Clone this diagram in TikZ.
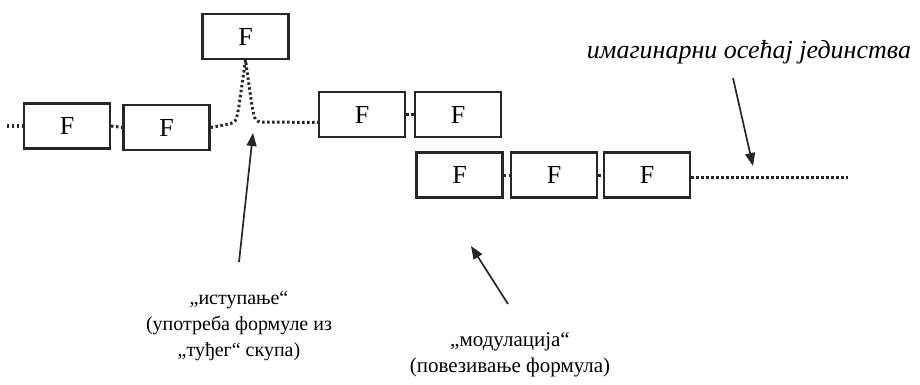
\documentclass[tikz,border=0pt]{standalone}
\usepackage{fontspec}
\setmainfont[Script=Cyrillic,Language=Serbian]{Liberation Serif}
\usetikzlibrary{arrows.meta}
\begin{document}
\begin{tikzpicture}[x=1pt,y=-1pt,
  fbox/.style={draw=black!85,line width=2.2pt,minimum width=86pt,minimum height=45pt,inner sep=0pt,font=\fontsize{26}{28}\selectfont},
  dots/.style={line width=3pt,dash pattern=on 2.4pt off 2.6pt,black!85},
  arr/.style={line width=1.7pt,black!85,-{Triangle[length=13pt,width=10pt]}},
  lbl/.style={align=center,inner sep=0pt,font=\fontsize{20}{26}\selectfont}]
\useasboundingbox (0,0) rectangle (920,385);
\node[fbox] (b1) at (67,126) {F};
\node[fbox] (b2) at (166.5,127.5) {F};
\node[fbox] (top) at (245.5,36.5) {F};
\node[fbox] (b3) at (362,114.5) {F};
\node[fbox] (b4) at (458,114.5) {F};
\node[fbox] (b5) at (459.5,175) {F};
\node[fbox] (b6) at (554,175) {F};
\node[fbox] (b7) at (647,175) {F};
\coordinate (l0) at (7,126);
\coordinate (r0) at (848,177);
\draw[dots] (l0) -- (b1.west);
\draw[dots] (b1.east) -- (b2.west);
\draw[dots] (b3.east) -- (b4.west);
\draw[dots] (b5.east) -- (b6.west);
\draw[dots] (b6.east) -- (b7.west);
\draw[dots] ([yshift=-2pt]b7.east) -- (r0);
\draw[dots] (b2.east) -- (229,124) .. controls (236,122) .. (239,106) -- (top.south) -- (252,106) .. controls (255,121) .. (262,122) -- ([yshift=-8pt]b3.west);
\node[lbl] (t1) at (239,326) {„иступање“\\(употреба формуле из\\„туђег“ скупа)};
\node[lbl,font=\fontsize{21}{26}\selectfont] (t2) at (510,355) {„модулација“\\(повезивање формула)};
\node[lbl,font=\fontsize{26}{28}\selectfont\itshape,anchor=center] (t3) at (749,52) {имагинарни осећај јединства};
\coordinate (a1s) at (239,262);
\coordinate (a1e) at (253,133);
\coordinate (a2s) at (508,304);
\coordinate (a2e) at (471,246);
\coordinate (a3s) at (733,78);
\coordinate (a3e) at (753,166);
\draw[arr] (a1s) -- (a1e);
\draw[arr] (a2s) -- (a2e);
\draw[arr] (a3s) -- (a3e);
\end{tikzpicture}
\end{document}
